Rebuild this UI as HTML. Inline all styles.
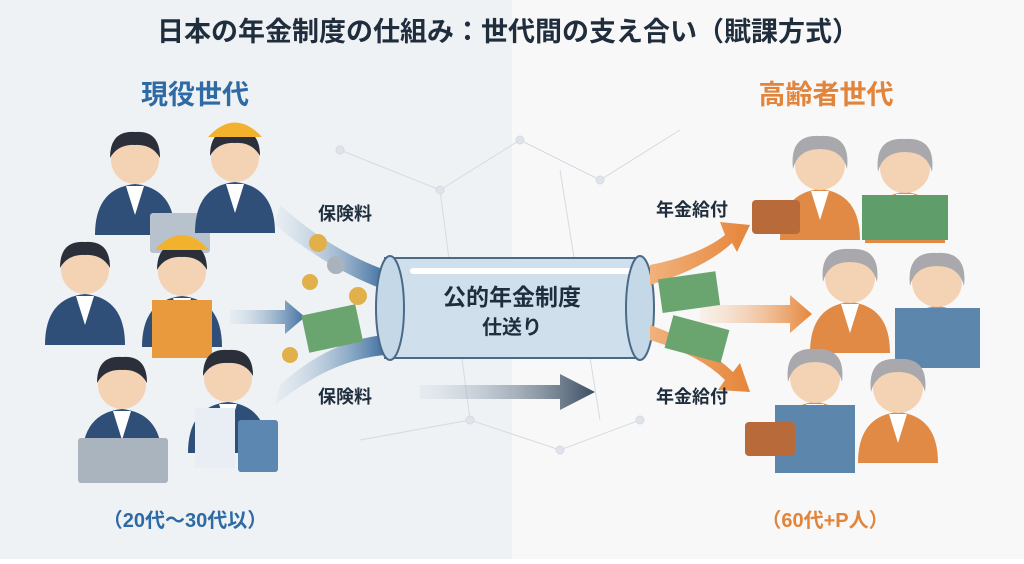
<!DOCTYPE html>
<html><head><meta charset="utf-8"><style>
body{margin:0;width:1024px;height:559px;overflow:hidden;font-family:"Liberation Sans","Noto Sans CJK JP",sans-serif}
</style></head><body>
<svg width="1024" height="559" viewBox="0 0 1024 559" xmlns="http://www.w3.org/2000/svg" font-family="Liberation Sans, Noto Sans CJK JP, sans-serif">
<defs>
<linearGradient id="bl" x1="0" x2="1"><stop offset="0" stop-color="#c9d8e6" stop-opacity="0.2"/><stop offset="1" stop-color="#3f6f9f"/></linearGradient>
<linearGradient id="or" x1="0" x2="1"><stop offset="0" stop-color="#f1b27c"/><stop offset="1" stop-color="#e5853a"/></linearGradient>
<linearGradient id="or2" x1="0" x2="1"><stop offset="0" stop-color="#f6d2b4" stop-opacity="0.2"/><stop offset="1" stop-color="#e5853a"/></linearGradient>
<linearGradient id="dk" x1="0" x2="1"><stop offset="0" stop-color="#c7d1dc" stop-opacity="0.2"/><stop offset="1" stop-color="#3c4e63"/></linearGradient>
<g id="pl"><path d="M-40 75 Q-40 28 0 24 Q40 28 40 75 Z" fill="#2f4f78"/><path d="M-9 26 L0 55 L9 26Z" fill="#fff"/><circle r="24" cy="0" fill="#f4d2b4"/><path d="M-25 -2 Q-25 -30 0 -28 Q25 -30 25 -2 Q17 -16 0 -15 Q-17 -16 -25 -2Z" fill="#2a2f3a"/></g>
<g id="po"><path d="M-40 75 Q-40 28 0 24 Q40 28 40 75 Z" fill="#e08a45"/><path d="M-9 26 L0 55 L9 26Z" fill="#fff"/><circle r="25" fill="#f4d2b4"/><path d="M-27 4 Q-31 -31 0 -29 Q31 -31 27 4 Q22 -16 0 -16 Q-22 -16 -27 4Z" fill="#a9a9ad"/></g>
</defs>
<rect width="512" height="559" fill="#eef2f5"/><rect x="512" width="512" height="559" fill="#f8f8f8"/>
<g stroke="#d5dbe2" stroke-width="1" fill="#dfe4ea">
<path d="M340 150 L440 190 L520 140 L600 180 L680 130 M440 190 L470 420 L560 450 L640 420 M360 440 L470 420 M560 170 L600 420" fill="none"/>
<circle cx="340" cy="150" r="4"/><circle cx="440" cy="190" r="4"/><circle cx="520" cy="140" r="4"/><circle cx="600" cy="180" r="4"/><circle cx="470" cy="420" r="4"/><circle cx="560" cy="450" r="4"/><circle cx="640" cy="420" r="4"/>
</g>
<text x="508" y="41" text-anchor="middle" font-size="27" font-weight="bold" fill="#1f2d3d">日本の年金制度の仕組み：世代間の支え合い（賦課方式）</text>
<text x="195" y="104" text-anchor="middle" font-size="27" font-weight="bold" fill="#2e6aa4">現役世代</text>
<text x="826" y="104" text-anchor="middle" font-size="27" font-weight="bold" fill="#e2843a">高齢者世代</text>
<!-- left people -->
<use href="#pl" x="135" y="160"/>
<rect x="150" y="213" width="60" height="40" fill="#b8c2cc" rx="3"/>
<use href="#pl" x="235" y="158"/>
<path d="M208 137 Q235 108 262 137Z" fill="#f2b22e"/>
<use href="#pl" x="85" y="270"/><use href="#pl" x="182" y="272"/>
<path d="M155 250 Q182 220 209 250Z" fill="#f2b22e"/>
<rect x="152" y="300" width="60" height="58" fill="#e89a3c"/>
<use href="#pl" x="122" y="385"/><use href="#pl" x="228" y="378"/>
<rect x="78" y="438" width="90" height="45" fill="#aab4be" rx="3"/><rect x="195" y="408" width="40" height="60" fill="#e8eef3"/>
<rect x="238" y="420" width="40" height="52" fill="#5b87b0" rx="3"/>
<!-- flows left -->
<path d="M280 205 Q330 250 385 270 L385 290 Q330 270 275 225Z" fill="url(#bl)"/>
<path d="M280 385 Q330 340 385 335 L385 355 Q330 360 275 405Z" fill="url(#bl)"/>
<path d="M230 310 L285 310 L285 300 L305 317 L285 334 L285 324 L230 324Z" fill="url(#bl)"/>
<path d="M420 385 L560 385 L560 374 L595 392 L560 410 L560 399 L420 399Z" fill="url(#dk)"/>
<rect x="305" y="310" width="55" height="38" fill="#6aa56f" transform="rotate(-12 330 330)"/>
<g fill="#e2b04a"><circle cx="318" cy="243" r="9"/><circle cx="310" cy="282" r="8"/><circle cx="358" cy="296" r="9"/><circle cx="290" cy="355" r="8"/><circle cx="392" cy="312" r="10"/><circle cx="628" cy="318" r="9"/></g>
<circle cx="336" cy="265" r="9" fill="#a9b3bd"/>
<!-- tube -->
<rect x="385" y="258" width="255" height="100" fill="#cfe0ec" stroke="#4b6a88" stroke-width="2"/>
<rect x="410" y="268" width="230" height="6" fill="#fff" rx="3"/>
<ellipse cx="390" cy="308" rx="14" ry="52" fill="#c4d8e7" stroke="#4b6a88" stroke-width="2"/>
<ellipse cx="640" cy="308" rx="14" ry="52" fill="#c4d8e7" stroke="#4b6a88" stroke-width="2"/>
<text x="512" y="305" text-anchor="middle" font-size="23" font-weight="bold" fill="#1f2d3d">公的年金制度</text>
<text x="512" y="334" text-anchor="middle" font-size="20" font-weight="bold" fill="#1f2d3d">仕送り</text>
<!-- flows right -->
<path d="M650 265 Q700 255 725 235 L720 222 L750 225 L737 252 L732 243 Q705 268 650 285Z" fill="url(#or)"/>
<path d="M650 340 Q700 355 725 380 L718 390 L750 392 L740 363 L733 372 Q705 345 650 325Z" fill="url(#or)"/>
<path d="M700 305 L790 305 L790 295 L812 314 L790 333 L790 323 L700 323Z" fill="url(#or2)"/>
<rect x="660" y="275" width="58" height="34" fill="#6aa56f" transform="rotate(-8 690 292)"/>
<rect x="668" y="322" width="58" height="34" fill="#6aa56f" transform="rotate(15 697 339)"/>
<text x="345" y="220" text-anchor="middle" font-size="18" font-weight="bold" fill="#1f2d3d">保険料</text>
<text x="345" y="403" text-anchor="middle" font-size="18" font-weight="bold" fill="#1f2d3d">保険料</text>
<text x="692" y="216" text-anchor="middle" font-size="18" font-weight="bold" fill="#1f2d3d">年金給付</text>
<text x="692" y="403" text-anchor="middle" font-size="18" font-weight="bold" fill="#1f2d3d">年金給付</text>
<!-- right people -->
<use href="#po" x="820" y="165"/>
<rect x="752" y="200" width="48" height="34" fill="#b86a3a" rx="4"/>
<use href="#po" x="905" y="168"/>
<rect x="862" y="195" width="86" height="45" fill="#5f9e6a"/>
<use href="#po" x="850" y="278"/><use href="#po" x="937" y="282"/>
<rect x="895" y="308" width="85" height="60" fill="#5d86ad"/>
<use href="#po" x="815" y="378"/>
<rect x="775" y="405" width="80" height="68" fill="#5d86ad"/>
<rect x="745" y="422" width="50" height="34" fill="#b86a3a" rx="4"/>
<use href="#po" x="898" y="388"/>
<text x="185" y="527" text-anchor="middle" font-size="20" font-weight="bold" fill="#2e6aa4">（20代〜30代以）</text>
<text x="825" y="527" text-anchor="middle" font-size="20" font-weight="bold" fill="#e2843a">（60代+P人）</text>
</svg>
</body></html>
